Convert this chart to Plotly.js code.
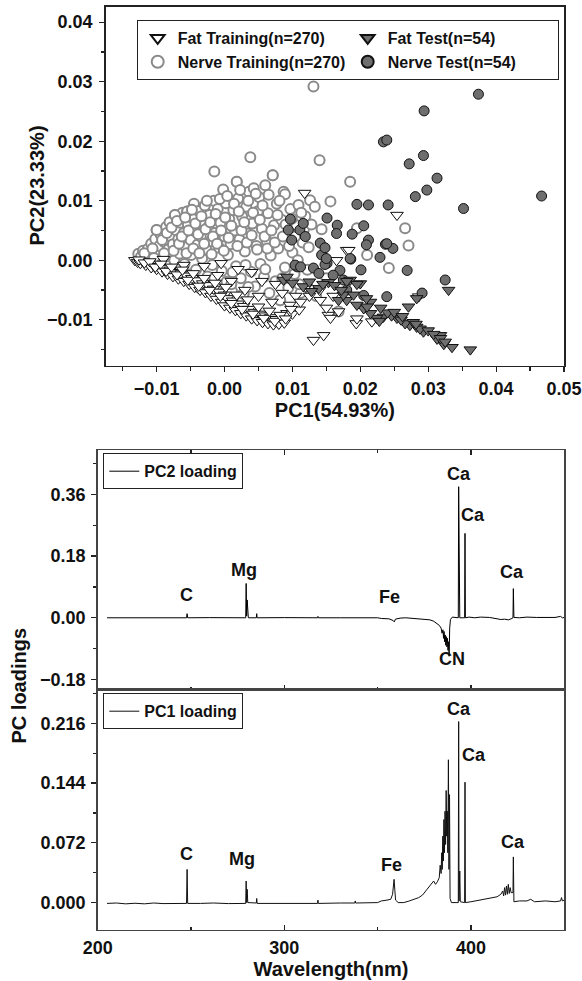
<!DOCTYPE html>
<html>
<head>
<meta charset="utf-8">
<script src="https://cdn.plot.ly/plotly-3.0.1.min.js"></script>
<style>html,body{margin:0;padding:0;background:#fff;}#chart{width:582px;height:981px;}</style>
</head>
<body>
<div id="chart"></div>
<script>
// ---------- PCA score data ----------
const fatTrainX = [-0.0132,-0.0128,-0.0124,-0.0120,-0.0116,-0.0112,-0.0108,-0.0104,-0.0100,-0.0096,-0.0092,-0.0088,-0.0084,-0.0080,-0.0076,-0.0072,-0.0068,-0.0064,-0.0060,-0.0056,-0.0052,-0.0048,-0.0044,-0.0040,-0.0036,-0.0032,-0.0028,-0.0024,-0.0020,-0.0016,-0.0012,-0.0008,-0.0004,0.0000,0.0000,0.0004,0.0008,0.0012,0.0016,0.0020,0.0024,0.0028,0.0032,0.0036,0.0040,0.0044,0.0048,0.0052,0.0056,0.0060,0.0064,0.0068,0.0072,0.0076,0.0080,0.0084,0.0088,0.0092,0.0096,0.0100,0.0105,0.0110,0.0118,0.0120,0.0131,0.0146,0.0141,0.0153,0.0156,0.0165,0.0168,0.0180,0.0183,0.0194,0.0195,0.0217,0.0254,0.0286,-0.0030,-0.0010,0.0010,0.0030,0.0050,0.0070,-0.0060,-0.0090,0.0020,0.0055,0.0085,-0.0005,0.0040,0.0075,
  -0.0126,-0.0118,-0.0110,-0.0102,-0.0094,-0.0086,-0.0078,-0.0070,-0.0062,-0.0054,-0.0046,-0.0038,-0.0030,-0.0022,-0.0014,-0.0006,0.0002,0.0010,0.0018,0.0026,0.0034,0.0042,0.0050,0.0058,0.0066,0.0074,0.0082,0.0090,0.0098,0.0112,0.0125,0.0140,0.0150,0.0160];
const fatTrainY = [0.0000,-0.0003,-0.0005,-0.0002,-0.0008,-0.0005,-0.0012,-0.0007,-0.0015,-0.0010,-0.0019,-0.0013,-0.0023,-0.0016,-0.0027,-0.0020,-0.0031,-0.0022,-0.0035,-0.0026,-0.0040,-0.0030,-0.0045,-0.0034,-0.0050,-0.0039,-0.0054,-0.0042,-0.0060,-0.0048,-0.0065,-0.0053,-0.0070,-0.0058,-0.0076,-0.0064,-0.0080,-0.0068,-0.0084,-0.0073,-0.0089,-0.0077,-0.0093,-0.0082,-0.0098,-0.0087,-0.0101,-0.0090,-0.0104,-0.0093,-0.0106,-0.0096,-0.0108,-0.0099,-0.0107,-0.0094,-0.0105,-0.0089,-0.0075,-0.0090,-0.0060,-0.0083,0.0113,-0.0045,-0.0134,-0.0126,-0.0067,-0.0092,-0.0097,0.0000,-0.0086,0.0017,0.0017,-0.0106,-0.0098,-0.0103,0.0076,-0.0061,-0.0010,-0.0025,-0.0035,-0.0050,-0.0060,-0.0070,-0.0008,0.0002,-0.0015,-0.0035,-0.0055,-0.0005,-0.0020,-0.0040,
  0.0001,-0.0004,-0.0002,-0.0011,-0.0006,-0.0018,-0.0011,-0.0024,-0.0016,-0.0033,-0.0022,-0.0043,-0.0030,-0.0050,-0.0038,-0.0060,-0.0045,-0.0072,-0.0058,-0.0082,-0.0066,-0.0090,-0.0078,-0.0097,-0.0085,-0.0102,-0.0092,-0.0098,-0.0082,-0.0070,-0.0060,-0.0050,-0.0080,-0.0060];

const nerveTrainX = [-0.0127,-0.0123,-0.0120,-0.0115,-0.0113,-0.0110,-0.0108,-0.0102,-0.0100,-0.0101,-0.0098,-0.0096,-0.0094,-0.0090,-0.0088,-0.0086,-0.0084,-0.0083,-0.0081,-0.0080,-0.0076,-0.0074,-0.0073,-0.0071,-0.0069,-0.0068,-0.0066,-0.0065,-0.0062,-0.0060,-0.0059,-0.0057,-0.0055,-0.0054,-0.0052,-0.0050,-0.0049,-0.0047,-0.0045,-0.0044,-0.0042,-0.0040,-0.0038,-0.0036,-0.0035,-0.0033,-0.0031,-0.0029,-0.0027,-0.0025,-0.0024,-0.0022,-0.0020,-0.0018,-0.0016,-0.0015,-0.0014,-0.0012,-0.0010,-0.0008,-0.0006,-0.0004,-0.0002,0.0000,0.0002,0.0003,0.0005,0.0007,0.0009,0.0011,0.0013,0.0015,0.0018,0.0017,0.0020,0.0022,0.0024,0.0026,0.0028,0.0030,0.0032,0.0034,0.0036,0.0038,0.0039,0.0041,0.0043,0.0045,0.0047,0.0049,0.0051,0.0053,0.0055,0.0058,0.0060,0.0062,0.0064,0.0066,0.0068,0.0071,0.0073,0.0075,0.0077,0.0079,0.0082,0.0084,0.0087,0.0089,0.0091,0.0094,0.0097,0.0100,0.0103,0.0106,0.0109,0.0112,0.0115,0.0119,0.0122,0.0126,0.0131,0.0140,0.0143,0.0150,0.0156,0.0168,0.0185,0.0195,0.0210,0.0242,0.0266,0.0271,0.0135,0.0089,0.0071,0.0018,-0.0073,-0.0055,-0.0100,-0.0036,0.0028,0.0082,
  -0.0118,-0.0106,-0.0104,-0.0092,-0.0089,-0.0085,-0.0078,-0.0075,-0.0070,-0.0067,-0.0063,-0.0058,-0.0056,-0.0053,-0.0048,-0.0046,-0.0043,-0.0039,-0.0037,-0.0034,-0.0030,-0.0028,-0.0026,-0.0021,-0.0019,-0.0017,-0.0013,-0.0011,-0.0007,-0.0005,-0.0001,0.0001,0.0004,0.0006,0.0010,0.0012,0.0014,0.0019,0.0021,0.0023,0.0025,0.0029,0.0031,0.0033,0.0035,0.0040,0.0042,0.0046,0.0048,0.0052,0.0056,0.0059,0.0063,0.0065,0.0069,0.0074,0.0078,0.0081,0.0086,0.0090,0.0095,0.0099,0.0104,0.0108,0.0113,0.0117,0.0124,0.0128,0.0133,0.0060,0.0035,0.0010,-0.0015,0.0085,0.0110];
const nerveTrainY = [0.0011,0.0006,0.0016,0.0002,0.0019,0.0008,0.0028,0.0036,0.0051,0.0012,-0.0003,0.0024,0.0043,0.0005,0.0030,0.0056,-0.0009,0.0018,0.0064,0.0041,0.0027,0.0000,0.0076,0.0050,-0.0015,0.0036,0.0011,0.0063,0.0080,0.0046,-0.0006,0.0022,0.0082,0.0060,-0.0024,0.0034,0.0009,0.0071,0.0095,0.0052,-0.0016,0.0026,0.0083,-0.0038,0.0040,0.0003,0.0065,0.0092,0.0018,-0.0027,0.0056,0.0076,0.0032,-0.0008,0.0100,0.0149,0.0046,-0.0045,0.0086,0.0021,0.0063,-0.0018,0.0119,0.0040,0.0096,-0.0036,0.0009,0.0069,0.0027,-0.0052,0.0084,0.0050,0.0132,-0.0010,0.0104,0.0035,-0.0030,0.0073,-0.0056,0.0015,0.0090,0.0045,0.0115,0.0173,-0.0019,0.0062,0.0121,-0.0044,0.0024,0.0082,0.0106,-0.0006,0.0053,-0.0028,0.0126,0.0033,0.0079,-0.0055,0.0008,0.0143,0.0059,-0.0035,0.0095,0.0020,-0.0067,0.0068,0.0115,-0.0012,0.0042,-0.0046,0.0086,0.0013,-0.0023,0.0059,0.0093,-0.0055,0.0030,0.0074,-0.0016,0.0101,0.0292,0.0168,0.0052,-0.0030,0.0099,-0.0086,0.0132,0.0054,0.0009,-0.0013,0.0054,0.0025,-0.0060,0.0111,0.0143,0.0132,0.0076,0.0082,0.0051,-0.0047,-0.0056,-0.0067,
  0.0012,0.0020,0.0004,0.0034,0.0012,0.0046,0.0055,0.0016,0.0066,0.0028,0.0040,0.0072,0.0012,0.0050,0.0085,0.0020,0.0062,0.0044,0.0012,0.0074,0.0028,0.0052,0.0100,0.0064,0.0010,0.0040,0.0078,0.0028,0.0103,0.0050,0.0016,0.0072,0.0108,0.0038,0.0058,-0.0020,0.0095,0.0024,0.0082,0.0118,0.0050,0.0064,-0.0008,0.0030,0.0100,0.0042,0.0080,0.0112,0.0018,0.0068,0.0092,0.0040,0.0020,0.0110,0.0050,0.0030,0.0076,0.0100,0.0040,0.0060,0.0024,0.0070,0.0040,0.0000,0.0080,0.0052,0.0022,0.0060,0.0090,-0.0015,-0.0045,-0.0040,-0.0030,-0.0030,-0.0040];

const fatTestX = [0.0362,0.0335,0.0323,0.0313,0.0318,0.0293,0.0283,0.0273,0.0266,0.0254,0.0246,0.0234,0.0224,0.0215,0.0205,0.0195,0.0180,0.0200,0.0185,0.0153,0.0139,0.0116,0.0087,0.0271,0.0283,0.0330,0.0215,0.0168,0.0092,0.0128,0.0162,0.0180,0.0175,0.0228,0.0240,0.0260,0.0278,0.0288,0.0300,0.0308,0.0318,0.0325,0.0250,0.0230,0.0210,0.0190,0.0172,0.0145,0.0125,0.0100,0.0195,0.0209,0.0262,0.0282];
const fatTestY = [-0.0150,-0.0146,-0.0141,-0.0132,-0.0126,-0.0120,-0.0112,-0.0109,-0.0106,-0.0097,-0.0093,-0.0095,-0.0097,-0.0089,-0.0081,-0.0075,-0.0067,-0.0039,-0.0033,-0.0037,-0.0047,-0.0044,-0.0033,-0.0078,-0.0064,-0.0050,-0.0070,-0.0067,-0.0028,-0.0052,-0.0042,-0.0035,-0.0058,-0.0102,-0.0088,-0.0100,-0.0104,-0.0115,-0.0118,-0.0124,-0.0131,-0.0137,-0.0087,-0.0080,-0.0078,-0.0058,-0.0050,-0.0040,-0.0036,-0.0038,-0.0040,-0.0064,-0.0094,-0.0107];

const nerveTestX = [0.0374,0.0294,0.0234,0.0239,0.0293,0.0272,0.0313,0.0298,0.0281,0.0467,0.0352,0.0195,0.0212,0.0241,0.0151,0.0166,0.0165,0.0205,0.0188,0.0212,0.0209,0.0237,0.0248,0.0229,0.0269,0.0186,0.0201,0.0170,0.0151,0.0143,0.0097,0.0094,0.0111,0.0099,0.0119,0.0107,0.0131,0.0148,0.0139,0.0175,0.0325,0.0291,0.0239,0.0205,0.0141,0.0148,0.0104,0.0112,0.0150,0.0185,0.0239,0.0116,0.0180,0.0160];
const nerveTestY = [0.0279,0.0251,0.0199,0.0202,0.0176,0.0162,0.0138,0.0118,0.0107,0.0108,0.0087,0.0094,0.0093,0.0093,0.0071,0.0059,0.0045,0.0058,0.0044,0.0034,0.0026,0.0027,0.0020,0.0005,-0.0017,0.0002,-0.0016,-0.0017,-0.0005,0.0009,0.0069,0.0051,0.0051,0.0034,0.0040,-0.0011,-0.0013,-0.0007,-0.0022,-0.0033,-0.0033,-0.0055,-0.0061,-0.0059,0.0029,0.0021,-0.0008,-0.0011,0.0003,0.0003,0.0028,0.0062,-0.0050,-0.0025];

// ---------- Loading spectra (wavelength nm, loading) ----------
const pc2Wl = [205,215,225,235,247.6,247.9,248.2,260,270,279.3,279.55,279.8,280.1,280.4,280.7,285.0,285.2,285.4,300,317.8,318.0,318.2,330,340,350,352,356,358.3,358.9,359.5,362,365,368,372,375,378,380,381.5,383,384,384.5,385,385.3,385.6,385.9,386.2,386.5,386.8,387.1,387.4,387.7,388.0,388.3,388.6,389.0,390,392,393.2,393.4,393.6,393.8,394.0,396.6,396.8,397.0,399,402,405,410,414,416,418,420,421.5,422.5,422.7,423.0,426,430,435,440,445,448,449,450];
const pc2Val = [0,0.0005,0,0.0005,0,0.012,0,0.0005,0,0,0.100,0.005,0.052,0.004,0,0,0.012,0,0.0005,0,0.004,0,0,0.0005,0,-0.002,-0.003,-0.008,-0.012,-0.004,-0.001,0,-0.001,-0.002,-0.004,-0.006,-0.010,-0.015,-0.022,-0.030,-0.045,-0.035,-0.060,-0.040,-0.070,-0.050,-0.080,-0.055,-0.085,-0.060,-0.095,-0.070,-0.112,-0.030,-0.005,0.002,0,0,0.382,0.002,0.065,0,0,0.246,0,0.002,0,0.002,0.001,-0.003,-0.005,-0.004,-0.006,-0.003,0,0.085,0.001,0,0.002,0.001,0.002,0.001,0.004,0,0.001];

const pc1Wl = [205,210,215,220,225,230,235,240,247.6,247.9,248.2,255,262,270,279.3,279.55,279.8,280.1,280.4,285.0,285.2,285.4,295,305,317.8,318.0,318.2,330,337.8,338.0,338.2,350,352,355,357,358.0,358.4,358.8,359.2,359.6,361,364,367,370,372,374,376,378,379,380,381,382,383,383.5,384,384.3,384.6,384.9,385.2,385.5,385.8,386.1,386.4,386.7,387.0,387.3,387.6,387.9,388.2,388.5,388.8,389.5,392.5,393.2,393.4,393.6,394.0,394.3,396.6,396.8,397.0,400,405,410,414,416,417,417.5,418,418.5,419,419.5,420,420.5,421,421.5,422.5,422.7,423.0,426,430,432,434,440,445,448,448.5,449,450];
const pc1Val = [-0.001,-0.0005,-0.0015,-0.0008,-0.0015,-0.0005,-0.0012,-0.001,-0.001,0.040,-0.001,-0.001,-0.0005,-0.0012,-0.001,0.026,0.0,0.016,0.0,-0.0005,0.005,-0.001,-0.001,-0.0008,-0.001,0.003,-0.001,-0.0005,-0.0005,0.002,-0.0005,0.0,0.002,0.003,0.004,0.010,0.026,0.028,0.015,0.003,0.0,0.0,0.002,0.004,0.006,0.009,0.015,0.021,0.024,0.026,0.022,0.025,0.030,0.045,0.035,0.060,0.040,0.080,0.050,0.100,0.060,0.110,0.070,0.135,0.080,0.110,0.060,0.172,0.040,0.130,0.005,0.0,0.0,0.0,0.218,0.002,0.038,0.001,0.0,0.145,0.0,0.001,0.003,0.005,0.007,0.010,0.014,0.008,0.018,0.009,0.020,0.010,0.022,0.011,0.018,0.012,0.012,0.055,0.001,0.002,0.002,0.004,0.001,0.002,0.001,0.002,0.006,0.002,0.003];

// ---------- Peak labels ----------
const pc2Labels = ['C','Mg','Fe','Ca','Ca','Ca','CN'];
const pc2LabelX = [247.6,278.5,356.5,393.6,401.2,421.8,389.6];
const pc2LabelY = [0.066,0.138,0.062,0.419,0.301,0.132,-0.119];
const pc1Labels = ['C','Mg','Fe','Ca','Ca','Ca'];
const pc1LabelX = [247.6,277.3,357.6,393.8,401.4,422.3];
const pc1LabelY = [0.058,0.052,0.045,0.233,0.178,0.073];

// ---------- styling ----------
const FONT = 'Liberation Sans, Arial, sans-serif';
const bold = (size, color) => ({family: FONT, size: size, color: color || '#111', weight: 'bold'});
const W = 582, H = 981;
const px = v => v / W;
const py = v => 1 - v / H;

const traces = [
  {x: nerveTrainX, y: nerveTrainY, type: 'scatter', mode: 'markers', name: 'Nerve Training(n=270)', legendrank: 3,
   marker: {symbol: 'circle', size: 10, color: '#ffffff', line: {color: '#8a8a8a', width: 2}}},
  {x: fatTrainX, y: fatTrainY, type: 'scatter', mode: 'markers', name: 'Fat Training(n=270)', legendrank: 1,
   marker: {symbol: 'triangle-down', size: 11, color: '#ffffff', line: {color: '#111', width: 1}}},
  {x: nerveTestX, y: nerveTestY, type: 'scatter', mode: 'markers', name: 'Nerve Test(n=54)', legendrank: 4,
   marker: {symbol: 'circle', size: 10, color: '#6e6e6e', line: {color: '#111', width: 1}}},
  {x: fatTestX, y: fatTestY, type: 'scatter', mode: 'markers', name: 'Fat Test(n=54)', legendrank: 2,
   marker: {symbol: 'triangle-down', size: 11, color: '#6e6e6e', line: {color: '#111', width: 1}}},
  {x: pc2Wl, y: pc2Val, type: 'scatter', mode: 'lines', name: 'PC2 loading', xaxis: 'x2', yaxis: 'y2', legend: 'legend2',
   line: {color: '#000', width: 1}},
  {x: pc1Wl, y: pc1Val, type: 'scatter', mode: 'lines', name: 'PC1 loading', xaxis: 'x3', yaxis: 'y3', legend: 'legend3',
   line: {color: '#111', width: 1}}
];

const annotations = [];
pc2Labels.forEach((t, i) => annotations.push({xref: 'x2', yref: 'y2', x: pc2LabelX[i], y: pc2LabelY[i], text: t, showarrow: false, font: bold(18)}));
pc1Labels.forEach((t, i) => annotations.push({xref: 'x3', yref: 'y3', x: pc1LabelX[i], y: pc1LabelY[i], text: t, showarrow: false, font: bold(18)}));
// Axis titles placed explicitly (shared PC loadings title spans both lower panels)
annotations.push({xref: 'paper', yref: 'paper', x: px(18.5), y: py(686), xanchor: 'center', yanchor: 'middle',
  text: 'PC loadings', textangle: -90, showarrow: false, font: bold(20)});
annotations.push({xref: 'paper', yref: 'paper', x: px(36.5), y: py(186), xanchor: 'center', yanchor: 'middle',
  text: 'PC2(23.33%)', textangle: -90, showarrow: false, font: bold(20)});

const axisBase = {showgrid: false, zeroline: false, linecolor: '#222', linewidth: 1.5, tickfont: bold(18), tickcolor: '#222', tickwidth: 1.2};

const layout = {
  width: W, height: H,
  margin: {l: 0, r: 0, t: 0, b: 0},
  paper_bgcolor: '#fff', plot_bgcolor: '#fff',
  font: {family: FONT},
  xaxis: Object.assign({}, axisBase, {
    domain: [px(105.7), px(564)], range: [-0.0175, 0.05], anchor: 'y',
    dtick: 0.01, tick0: 0, tickformat: '.2f', ticks: 'outside', ticklen: 5, mirror: true,
    minor: {dtick: 0.005, tick0: 0, ticks: 'outside', ticklen: 4, tickcolor: '#222'},
    ticklabelstandoff: 1,
    title: {text: 'PC1(54.93%)', font: bold(20), standoff: 5}
  }),
  yaxis: Object.assign({}, axisBase, {
    domain: [py(365.7), py(6.7)], range: [-0.0177, 0.0426], anchor: 'x',
    dtick: 0.01, tick0: 0, tickformat: '.2f', ticks: 'outside', ticklen: 5, mirror: true,
    minor: {dtick: 0.005, tick0: 0, ticks: 'outside', ticklen: 3, tickcolor: '#222'},
    ticklabelstandoff: 3,
    title: {text: ''}
  }),
  xaxis2: Object.assign({}, axisBase, {
    domain: [px(97.7), px(564.3)], range: [200, 450], anchor: 'y2', linecolor: '#444',
    dtick: 100, tick0: 0, ticks: 'inside', ticklen: 5, mirror: 'ticks', showticklabels: false,
    minor: {dtick: 50, ticks: 'inside', ticklen: 3, tickcolor: '#222'}
  }),
  yaxis2: Object.assign({}, axisBase, {
    domain: [py(689.5), py(450)], range: [-0.209, 0.489], anchor: 'x2', linecolor: '#444',
    dtick: 0.18, tick0: 0, tickformat: '.2f', ticks: 'outside', ticklen: 5, mirror: true,
    minor: {dtick: 0.09, tick0: 0, ticks: 'outside', ticklen: 3, tickcolor: '#222'},
    ticklabelstandoff: 2
  }),
  xaxis3: Object.assign({}, axisBase, {
    domain: [px(97.7), px(564.3)], range: [200, 450], anchor: 'y3', linecolor: '#444',
    dtick: 100, tick0: 0, ticks: 'inside', ticklen: 5, mirror: true,
    minor: {dtick: 50, ticks: 'inside', ticklen: 3, tickcolor: '#222'},
    ticklabelstandoff: 1,
    title: {text: 'Wavelength(nm)', font: bold(20), standoff: 4}
  }),
  yaxis3: Object.assign({}, axisBase, {
    domain: [py(929.5), py(689.5)], range: [-0.0324, 0.2566], anchor: 'x3', linecolor: '#444',
    dtick: 0.072, tick0: 0, tickformat: '.3f', ticks: 'outside', ticklen: 5, mirror: true,
    minor: {dtick: 0.036, tick0: 0, ticks: 'outside', ticklen: 3, tickcolor: '#222'},
    ticklabelstandoff: 2
  }),
  legend: {
    x: px(136.7), y: py(20), xanchor: 'left', yanchor: 'top', orientation: 'h',
    entrywidth: 165, entrywidthmode: 'pixels', traceorder: 'normal',
    bordercolor: '#222', borderwidth: 1, bgcolor: '#fff', font: bold(16), itemsizing: 'constant'
  },
  legend2: {
    x: px(103.3), y: py(453.3), xanchor: 'left', yanchor: 'top',
    bordercolor: '#222', borderwidth: 1, bgcolor: '#fff', font: bold(16)
  },
  legend3: {
    x: px(103.3), y: py(693.3), xanchor: 'left', yanchor: 'top',
    bordercolor: '#222', borderwidth: 1, bgcolor: '#fff', font: bold(16)
  },
  annotations: annotations,
  showlegend: true
};

Plotly.newPlot('chart', traces, layout, {displayModeBar: false, staticPlot: true});
</script>
</body>
</html>
